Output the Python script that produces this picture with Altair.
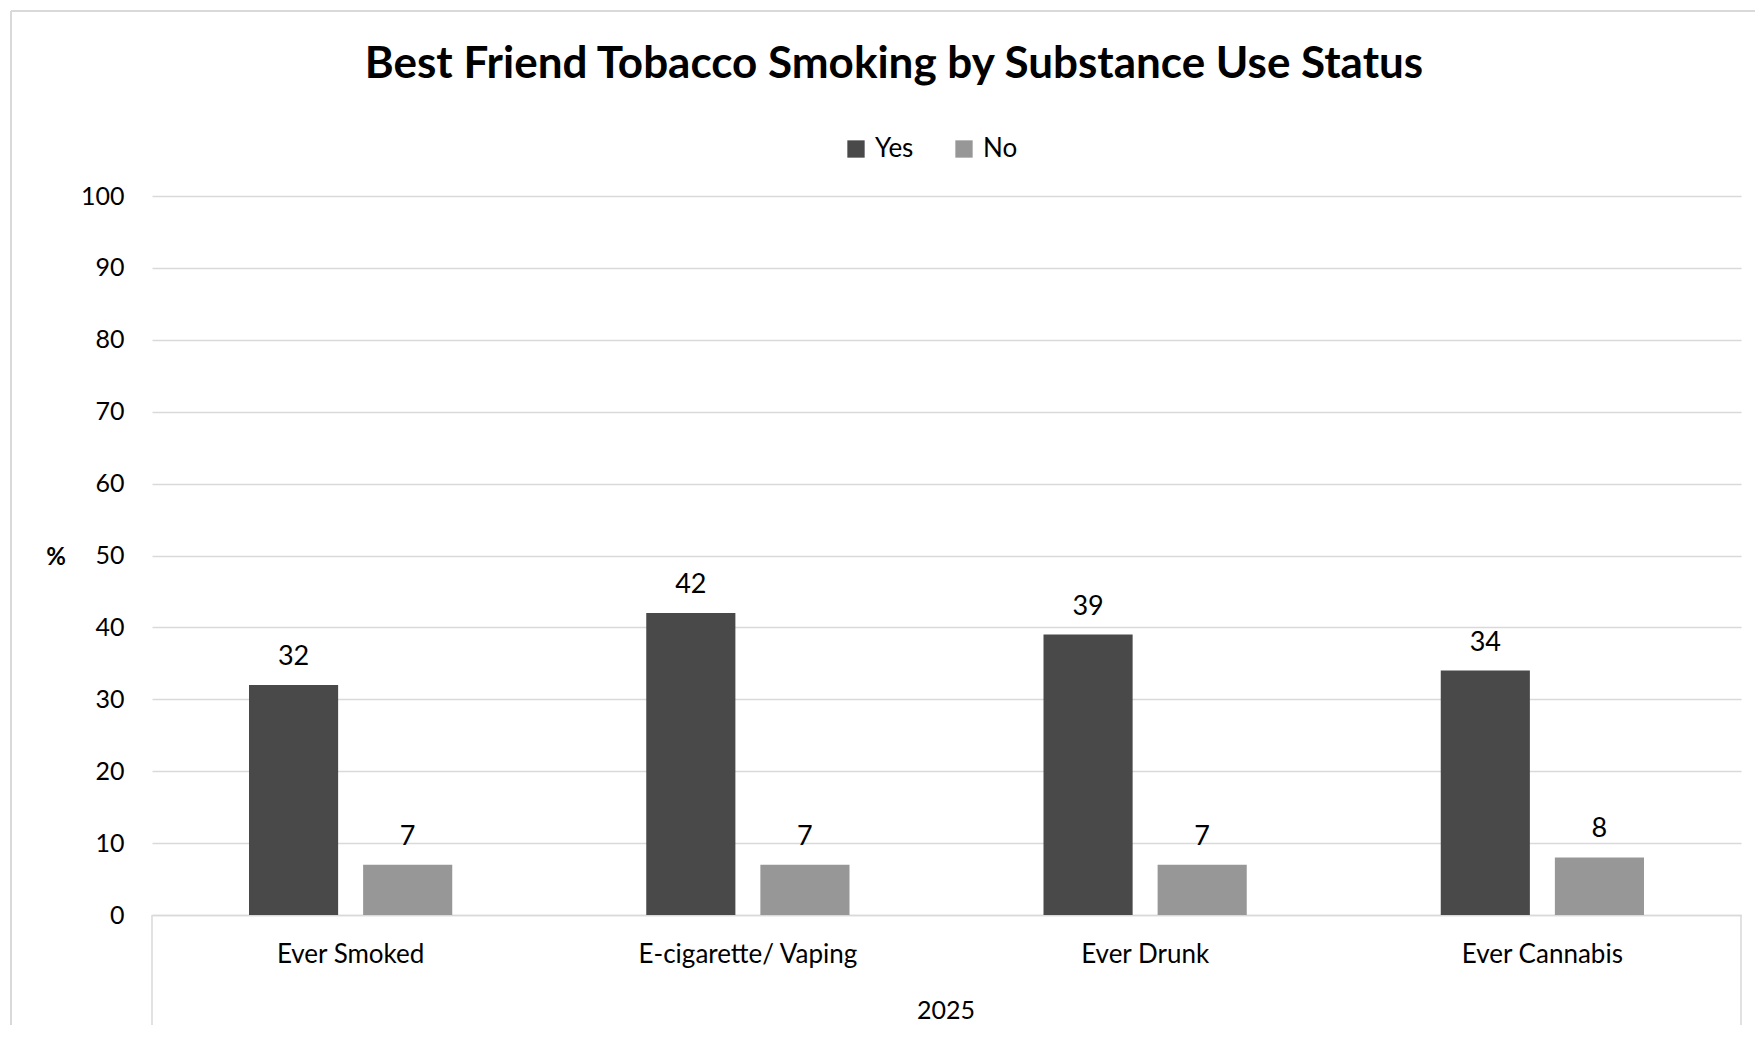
import altair as alt
import pandas as pd

categories = ["Ever Smoked", "E-cigarette/ Vaping", "Ever Drunk", "Ever Cannabis"]
yes_values = [32, 42, 39, 34]
no_values = [7, 7, 7, 8]
series = ["Yes", "No"]
colors = ["#494949", "#979797"]
title_text = "Best Friend Tobacco Smoking by Substance Use Status"
group_label = "2025"
y_ticks = [0, 10, 20, 30, 40, 50, 60, 70, 80, 90, 100]

rows = []
for c, y, n in zip(categories, yes_values, no_values):
    rows.append({"category": c, "series": "Yes", "value": y})
    rows.append({"category": c, "series": "No", "value": n})
df = pd.DataFrame(rows)

W, H = 1589, 719
FONT = "Lato"

x_enc = alt.X("category:N", sort=categories,
              scale=alt.Scale(paddingInner=0, paddingOuter=0),
              axis=alt.Axis(title=None, labelFontSize=26, labelFont=FONT, labelColor="#000000",
                            labelPadding=26, labelLimit=0, ticks=False, domainColor="#d9d9d9",
                            domainWidth=1.5, labelAngle=0))
xoff = alt.XOffset("series:N", sort=series, scale=alt.Scale(paddingInner=0.219, paddingOuter=0.85))
y_enc = alt.Y("value:Q", scale=alt.Scale(domain=[0, 100]),
              axis=alt.Axis(title=None, values=y_ticks, labelFontSize=25, labelFont=FONT,
                            labelColor="#000000", labelPadding=28, ticks=False, domain=False,
                            gridColor="#d9d9d9", gridWidth=1.3))

bars = alt.Chart(df).mark_bar().encode(
    x=x_enc, xOffset=xoff, y=y_enc,
    color=alt.Color("series:N", sort=series, scale=alt.Scale(domain=series, range=colors),
                    legend=alt.Legend(title=None, orient="none", legendX=691, legendY=-60,
                                      direction="horizontal", symbolType="square", symbolSize=300,
                                      symbolStrokeWidth=0, labelFontSize=26, labelFont=FONT,
                                      labelColor="#000000", columnPadding=37, labelOffset=6))
)

labels = alt.Chart(df).mark_text(baseline="alphabetic", dy=-20, fontSize=27, font=FONT, color="#000000").encode(
    x=alt.X("category:N", sort=categories), xOffset=xoff, y="value:Q", text="value:Q"
)

title = alt.Chart(pd.DataFrame({"t": [title_text]})).mark_text(
    fontSize=44, fontWeight="bold", font=FONT, color="#000000", baseline="alphabetic").encode(
    text="t:N", x=alt.value(742), y=alt.value(-118))

pct = alt.Chart(pd.DataFrame({"t": ["%"]})).mark_text(fontSize=24, fontWeight="bold", font=FONT,
                                                      color="#000000").encode(
    text="t:N", x=alt.value(-96), y=alt.value(362))

grp = alt.Chart(pd.DataFrame({"t": [group_label]})).mark_text(fontSize=25, font=FONT, color="#000000").encode(
    text="t:N", x=alt.value(794), y=alt.value(815))

line_df = pd.DataFrame({"k": [0]})
box_left = alt.Chart(line_df).mark_rule(color="#d9d9d9", strokeWidth=1.5).encode(
    x=alt.value(0), y=alt.value(H), y2=alt.value(H + 114))
box_right = alt.Chart(line_df).mark_rule(color="#d9d9d9", strokeWidth=1.5).encode(
    x=alt.value(W), y=alt.value(H), y2=alt.value(H + 114))
border_left = alt.Chart(line_df).mark_rule(color="#d9d9d9", strokeWidth=2).encode(
    x=alt.value(-141), y=alt.value(-185), y2=alt.value(H + 140))
border_top = alt.Chart(line_df).mark_rule(color="#d9d9d9", strokeWidth=2).encode(
    x=alt.value(-141), x2=alt.value(W + 14), y=alt.value(-185))

chart = alt.layer(bars, labels, title, pct, grp, box_left, box_right, border_left, border_top).properties(
    width=W, height=H,
    background="white",
    autosize=alt.AutoSizeParams(type="none"),
    padding={"left": 144, "top": 188, "right": 14, "bottom": 110},
).configure_view(stroke=None)

chart.save("out.html", embed_options={"renderer": "svg", "actions": False})
